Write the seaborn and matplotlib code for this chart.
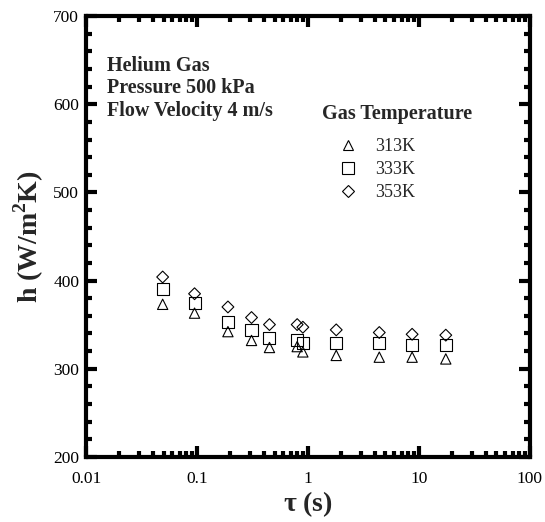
import matplotlib
matplotlib.use("Agg")
import matplotlib.pyplot as plt
from matplotlib.lines import Line2D
from matplotlib.ticker import LogLocator, MultipleLocator, FixedLocator, FixedFormatter, NullFormatter
import seaborn as sns
import pandas as pd

tau = [0.049, 0.095, 0.19, 0.31, 0.45, 0.8, 0.9, 1.8, 4.4, 8.7, 17.5]
h_313 = [373, 363, 342, 332, 324, 325, 319, 315, 313, 313, 311]
h_333 = [390, 374, 353, 344, 335, 332, 329, 329, 329, 327, 327]
h_353 = [404, 385, 370, 358, 350, 350, 347, 344, 341, 339, 338]
series_labels = ["313K", "333K", "353K"]
x_ticks = [0.01, 0.1, 1, 10, 100]
x_ticklabels = ["0.01", "0.1", "1", "10", "100"]

rows = []
for lab, vals in zip(series_labels, [h_313, h_333, h_353]):
    for t, v in zip(tau, vals):
        rows.append({"tau": t, "h": v, "T": lab})
df = pd.DataFrame(rows)

sns.set_style("ticks")
plt.rcParams["font.family"] = ["Liberation Serif", "DejaVu Serif"]
plt.rcParams["mathtext.fontset"] = "custom"
plt.rcParams["mathtext.rm"] = "Liberation Serif"
plt.rcParams["mathtext.bf"] = "Liberation Serif:bold"

fig = plt.figure(figsize=(5.45, 5.22), dpi=100)
ax = fig.add_axes([0.158, 0.125, 0.814, 0.844])

markers = {"313K": "^", "333K": "s", "353K": "D"}
sizes = {"313K": 55, "333K": 75, "353K": 36}
sns.scatterplot(data=df, x="tau", y="h", style="T", size="T", markers=markers,
                sizes=sizes, facecolor="none", edgecolor="black", linewidth=0.8,
                legend=False, ax=ax)

ax.set_xscale("log")
ax.set_xlim(0.01, 100)
ax.set_ylim(200, 700)
ax.xaxis.set_major_locator(FixedLocator(x_ticks))
ax.xaxis.set_major_formatter(FixedFormatter(x_ticklabels))
ax.xaxis.set_minor_locator(LogLocator(base=10, subs=range(2, 10), numticks=20))
ax.xaxis.set_minor_formatter(NullFormatter())
ax.yaxis.set_major_locator(MultipleLocator(100))
ax.yaxis.set_minor_locator(MultipleLocator(20))

for s in ax.spines.values():
    s.set_linewidth(3)
    s.set_color("black")
ax.tick_params(which="both", direction="in", top=True, right=True, colors="black",
               labelsize=12.5)
ax.tick_params(which="major", length=8, width=3, pad=5)
ax.tick_params(which="minor", length=4, width=3)
ax.tick_params(axis="x", which="major", pad=10)

ax.set_xlabel(r"$\mathbf{\tau}$ (s)", fontsize=20, fontweight="bold", labelpad=2)
ax.set_ylabel(r"h (W/m$^\mathbf{2}$K)", fontsize=20, fontweight="bold", labelpad=5)

for txt, y in [("Helium Gas", 0.888), ("Pressure 500 kPa", 0.837), ("Flow Velocity 4 m/s", 0.784)]:
    ax.text(0.047, y, txt, transform=ax.transAxes, fontsize=14.5, fontweight="bold",
            va="center", ha="left")
ax.text(0.532, 0.778, "Gas Temperature", transform=ax.transAxes, fontsize=14.5,
        fontweight="bold", va="center", ha="left")

handles = [Line2D([], [], linestyle="none", marker=markers[l], markersize=ms,
                  markerfacecolor="none", markeredgecolor="black", markeredgewidth=0.8)
           for l, ms in zip(series_labels, [7.4, 8.6, 6.0])]
leg = ax.legend(handles, series_labels, loc="upper left", bbox_to_anchor=(0.55, 0.74),
                frameon=False, fontsize=13, handletextpad=0.9, labelspacing=0.33,
                handlelength=1.2, borderaxespad=0)

fig.savefig("out.png", dpi=100)
